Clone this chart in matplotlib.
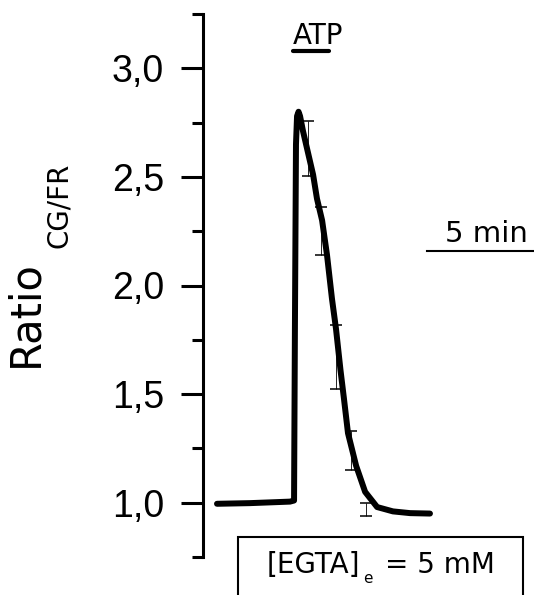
import matplotlib
matplotlib.use("Agg")
import matplotlib.pyplot as plt
from matplotlib.patches import Rectangle
from matplotlib.ticker import FixedLocator, FuncFormatter

# ---- data (time in min, ratio CG/FR) ----
time_min = [0.00, 1.54, 3.41, 3.60, 3.64, 3.69, 3.74, 3.81, 3.88, 4.02, 4.49, 4.67,
            4.91, 5.14, 5.37, 5.56, 5.77, 5.93, 6.12, 6.50, 6.92, 7.48, 8.22, 9.02, 9.95]
ratio = [0.995, 0.998, 1.005, 1.01, 1.80, 2.65, 2.78, 2.80, 2.78, 2.71, 2.51, 2.40,
         2.30, 2.14, 1.94, 1.80, 1.61, 1.48, 1.32, 1.17, 1.05, 0.98, 0.96, 0.952, 0.95]

err_time = [4.25, 4.88, 5.58, 6.26, 6.96]
err_mean = [2.63, 2.25, 1.67, 1.24, 0.97]
err_sd = [0.127, 0.111, 0.148, 0.09, 0.03]

major_ticks = [1.0, 1.5, 2.0, 2.5, 3.0]
minor_ticks = [0.75, 1.25, 1.75, 2.25, 2.75, 3.25]

atp_start, atp_end = 3.55, 5.23
scale_min = 5

fig = plt.figure(figsize=(5.34, 5.95), dpi=100)
ax = fig.add_axes([203 / 534, 38 / 595, 331 / 534, 543 / 595])
ax.set_xlim(-0.654, 14.81)
ax.set_ylim(0.75, 3.25)

ax.errorbar(err_time, err_mean, yerr=err_sd, fmt='none', ecolor='black',
            elinewidth=0.6, capsize=4, capthick=1.1, zorder=2)
ax.plot(time_min, ratio, color='black', lw=4.3, solid_joinstyle='round',
        solid_capstyle='round', zorder=3)

for s in ['top', 'right', 'bottom']:
    ax.spines[s].set_visible(False)
ax.spines['left'].set_linewidth(2.2)
ax.set_xticks([])
ax.yaxis.set_major_locator(FixedLocator(major_ticks))
ax.yaxis.set_minor_locator(FixedLocator(minor_ticks))
ax.yaxis.set_major_formatter(FuncFormatter(lambda v, p: f"{v:.1f}".replace('.', ',')))
ax.tick_params(axis='y', which='major', length=16, width=2.2, pad=12,
               labelsize=27, direction='out')
ax.tick_params(axis='y', which='minor', length=8, width=2.2, direction='out')
for lab in ax.get_yticklabels():
    lab.set_fontfamily('Liberation Sans')

# ATP bar
ax.plot([atp_start, atp_end], [3.078, 3.078], color='black', lw=3, solid_capstyle='round')
ax.text(atp_start, 3.11, 'ATP', fontsize=20, family='DejaVu Sans', ha='left', va='baseline')

# 5 min scale bar
ax.plot([9.81, 9.81 + scale_min], [2.159, 2.159], color='black', lw=1.5, clip_on=False)
ax.text(10.65, 2.201, '5 min', fontsize=21, family='DejaVu Sans', ha='left', va='baseline')

# EGTA box
ax.add_patch(Rectangle((0.98, 0.4), 13.32, 0.443, fill=False, lw=1.5,
                       edgecolor='black', clip_on=False))
ax.text(2.34, 0.677, '[EGTA]', fontsize=20, family='DejaVu Sans', ha='left',
        va='baseline', clip_on=False)
ax.text(6.82, 0.630, 'e', fontsize=11, family='DejaVu Sans', ha='left',
        va='baseline', clip_on=False)
ax.text(7.85, 0.677, '= 5 mM', fontsize=20, family='DejaVu Sans', ha='left',
        va='baseline', clip_on=False)

# y label
fig.text(25 / 534, 1 - 314 / 595, 'Ratio', rotation=90, fontsize=30,
         family='DejaVu Sans', ha='center', va='center')
fig.text(59 / 534, 1 - 205 / 595, 'CG/FR', rotation=90, fontsize=20,
         family='DejaVu Sans', ha='center', va='center')

fig.savefig('out.png', dpi=100)
